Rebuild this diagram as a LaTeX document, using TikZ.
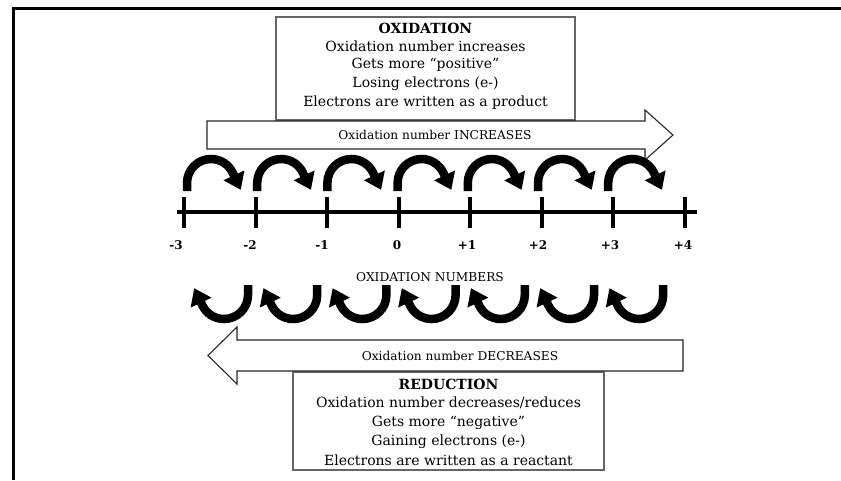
\documentclass[tikz,border=0pt]{standalone}
\usepackage{fontspec}
\setmainfont{DejaVu Serif}
\usetikzlibrary{arrows.meta}
\begin{document}
\begin{tikzpicture}[x=1pt,y=-1pt,
  infobox/.style={draw=black!60,line width=1.2pt,fill=white,inner sep=0pt},
  bigarrow/.style={draw=black!85,line width=1.1pt,fill=white,line join=miter},
  curly/.style={line width=8.5pt,-{Triangle[width=22pt,length=16pt]}},
  boxtext/.style={inner sep=0pt,font=\fontsize{14}{16}\selectfont},
  arrowtext/.style={inner sep=0pt,font=\fontsize{12.2}{14}\selectfont},
  numtext/.style={inner sep=0pt,font=\bfseries\fontsize{12}{14}\selectfont},
  tickline/.style={line width=4pt}
]
\useasboundingbox (0,0) rectangle (841,480);
\fill[white] (0,0) rectangle (841,480);
\draw[line width=3pt] (13,480) -- (13,8) -- (842,8);

% Oxidation box
\node[infobox, minimum width=299pt, minimum height=103pt] (oxbox) at (425.5,68.5) {};
\node[boxtext] (ox0) at (425.5,28) {\textbf{OXIDATION}};
\node[boxtext] (ox1) at (425.5,46.5) {Oxidation number increases};
\node[boxtext] (ox2) at (425.5,65) {Gets more “positive”};
\node[boxtext] (ox3) at (425.5,84) {Losing electrons (e-)};
\node[boxtext] (ox4) at (425.5,103) {Electrons are written as a product};

% Increase arrow
\draw[bigarrow] (207,121) -- (645,121) -- (645,110) -- (673,135) -- (645,160) -- (645,149) -- (207,149) -- cycle;
\node[arrowtext] (inc) at (435,135) {Oxidation number INCREASES};

% number line
\draw[tickline] (177,212) -- (697,212);
\foreach \k in {0,...,7} {
  \draw[tickline] (184+71.57*\k,197) -- (184+71.57*\k,228);
}
\node[numtext] (n1) at (176,245) {-3};
\node[numtext] (n2) at (250,245) {-2};
\node[numtext] (n3) at (322,245) {-1};
\node[numtext] (n4) at (397,245) {0};
\node[numtext] (n5) at (467,245) {+1};
\node[numtext] (n6) at (538,245) {+2};
\node[numtext] (n7) at (610,245) {+3};
\node[numtext] (n8) at (683,245) {+4};

% upper curved arrows
\foreach \i in {0,...,6} {
  \draw[curly] (187+70.2*\i,191) -- (187+70.2*\i,183) arc[start angle=180,end angle=335,radius=24] -- ++(8,17);
}

\node[arrowtext] (onum) at (430,277) {OXIDATION NUMBERS};

% lower curved arrows
\foreach \i in {0,...,6} {
  \draw[curly] (248+69.2*\i,285) -- (248+69.2*\i,295) arc[start angle=0,end angle=155,radius=24] -- ++(-8,-17);
}

% Reduction box
\node[infobox, minimum width=311pt, minimum height=98pt] (redbox) at (448.5,421) {};
\node[boxtext] (rd0) at (448.5,384) {\textbf{REDUCTION}};
\node[boxtext] (rd1) at (448.5,403) {Oxidation number decreases/reduces};
\node[boxtext] (rd2) at (448.5,422.5) {Gets more “negative”};
\node[boxtext] (rd3) at (448.5,441.5) {Gaining electrons (e-)};
\node[boxtext] (rd4) at (448.5,460) {Electrons are written as a reactant};

% Decrease arrow
\draw[bigarrow] (683,340) -- (237,340) -- (237,327) -- (208,355.5) -- (237,384) -- (237,371) -- (683,371) -- cycle;
\node[arrowtext] (dec) at (460,356) {Oxidation number DECREASES};
\end{tikzpicture}
\end{document}
